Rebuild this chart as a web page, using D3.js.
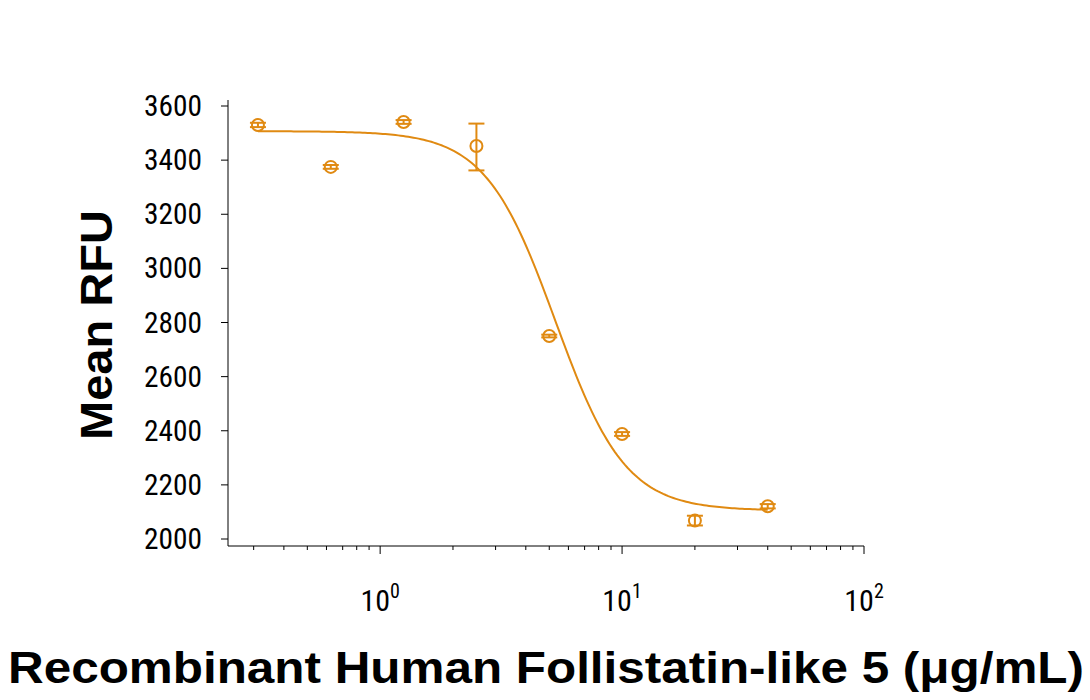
<!DOCTYPE html>
<html><head><meta charset="utf-8">
<script src="https://cdn.jsdelivr.net/npm/d3@7"></script>
<style>body{margin:0;background:#fff}</style></head>
<body><svg id="c" width="1090" height="700"></svg>
<script>
const conc = [0.3125, 0.625, 1.25, 2.5, 5, 10, 20, 40];
const rfu = [3530, 3375, 3541, 3452, 2750, 2388, 2068, 2121];
const errLo = [3522, 3368, 3534, 3362, 2745, 2381, 2050, 2113];
const errHi = [3538, 3382, 3548, 3535, 2755, 2395, 2086, 2129];
const fit = {top: 3507, bottom: 2105, ec50: 5.3, hill: 3.0};
const yTicks = [2000, 2200, 2400, 2600, 2800, 3000, 3200, 3400, 3600];
const xMajor = [1, 10, 100];
const col = "#E08A12";
const svg = d3.select("#c");
const x = d3.scaleLog().domain([0.235, 100]).range([228, 864]);
const y = d3.scaleLinear().domain([2000, 3600]).range([539, 106]);
const cond = "'Liberation Sans Narrow','Roboto Condensed','DejaVu Sans Condensed',sans-serif";
svg.append("line").attr("x1",228).attr("x2",228).attr("y1",100).attr("y2",546).attr("stroke","#000");
svg.append("line").attr("x1",228).attr("x2",864).attr("y1",546).attr("y2",546).attr("stroke","#000");
yTicks.forEach(t=>{
  svg.append("line").attr("x1",221).attr("x2",228).attr("y1",y(t)).attr("y2",y(t)).attr("stroke","#000");
  svg.append("text").attr("x",202).attr("y",y(t)+10).attr("text-anchor","end")
    .attr("font-family",cond).attr("font-size",29).attr("textLength",58).attr("lengthAdjust","spacingAndGlyphs").text(t);
});
const minors=[];
for (let d=-1; d<2; d++) for (let m=1; m<10; m++){const v=m*Math.pow(10,d); if(v>=0.235&&v<=100) minors.push(v);}
minors.push(100);
minors.forEach(v=>{
  const maj = xMajor.includes(v);
  svg.append("line").attr("x1",x(v)).attr("x2",x(v)).attr("y1",546).attr("y2",maj?554:550).attr("stroke","#000");
});
xMajor.forEach((v,i)=>{
  const t=svg.append("text").attr("x",x(v)).attr("y",611).attr("text-anchor","middle")
    .attr("font-family",cond).attr("font-size",30);
  t.append("tspan").text("10");
  t.append("tspan").attr("dy",-13).attr("font-size",20).text(i);
});
const xs = d3.range(0,201).map(i=>Math.pow(10, Math.log10(0.3125)+i*(Math.log10(40)-Math.log10(0.3125))/200));
const f = c => fit.bottom + (fit.top-fit.bottom)/(1+Math.pow(c/fit.ec50, fit.hill));
svg.append("path").attr("d", d3.line().x(c=>x(c)).y(c=>y(f(c)))(xs))
  .attr("fill","none").attr("stroke",col).attr("stroke-width",2);
conc.forEach((c,i)=>{
  const g=svg.append("g").attr("stroke",col).attr("stroke-width",2);
  g.append("line").attr("x1",x(c)).attr("x2",x(c)).attr("y1",y(errLo[i])).attr("y2",y(errHi[i]));
  [errLo[i],errHi[i]].forEach(e=>g.append("line").attr("x1",x(c)-8).attr("x2",x(c)+8).attr("y1",y(e)).attr("y2",y(e)));
  svg.append("circle").attr("cx",x(c)).attr("cy",y(rfu[i])).attr("r",6)
    .attr("fill","none").attr("stroke",col).attr("stroke-width",2);
});
svg.append("text").attr("transform","translate(112,325) rotate(-90)").attr("text-anchor","middle")
  .attr("font-family","'Liberation Sans',Arial,sans-serif").attr("font-weight","bold").attr("font-size",44)
  .attr("textLength",230).attr("lengthAdjust","spacingAndGlyphs").text("Mean RFU");
svg.append("text").attr("x",546).attr("y",683).attr("text-anchor","middle")
  .attr("font-family","'Liberation Sans',Arial,sans-serif").attr("font-weight","bold").attr("font-size",44)
  .attr("textLength",1076).attr("lengthAdjust","spacingAndGlyphs")
  .text("Recombinant Human Follistatin-like 5 (μg/mL)");
</script></body></html>
